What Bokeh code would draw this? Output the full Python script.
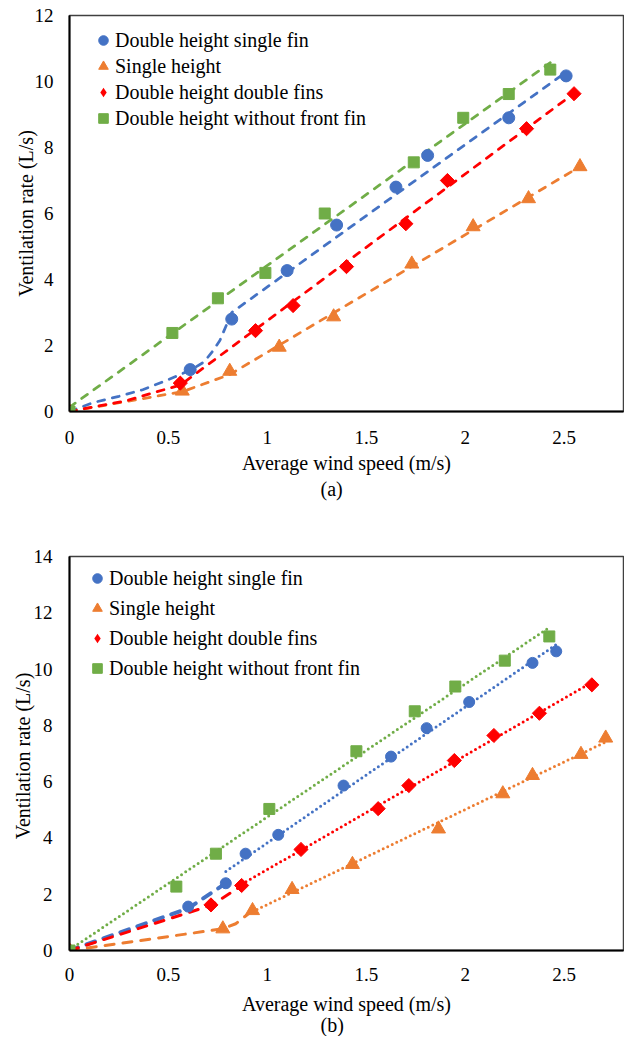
import numpy as np
from bokeh.plotting import figure
from bokeh.layouts import column
from bokeh.models import Range1d, FixedTicker, Legend, LegendItem, Title
from bokeh.embed import file_html
from bokeh.resources import INLINE

FONT = "Liberation Serif"

series_names = ["Double height single fin", "Single height",
                "Double height double fins", "Double height without front fin"]
series_colors = ["#4472C4", "#ED7D31", "#FF0000", "#70AD47"]

x_ticks = [0, 0.5, 1, 1.5, 2, 2.5]
x_tick_labels = ["0", "0.5", "1", "1.5", "2", "2.5"]
a_y_ticks = [0, 2, 4, 6, 8, 10, 12]
b_y_ticks = [0, 2, 4, 6, 8, 10, 12, 14]

# ---------------- (a) measured points ----------------
a_sf_x = [0, 0.61, 0.82, 1.10, 1.35, 1.65, 1.81, 2.22, 2.51]
a_sf_y = [0, 1.27, 2.80, 4.27, 5.65, 6.80, 7.76, 8.90, 10.17]
a_sh_x = [0, 0.57, 0.81, 1.06, 1.335, 1.73, 2.04, 2.32, 2.58]
a_sh_y = [0, 0.62, 1.22, 1.95, 2.87, 4.47, 5.60, 6.45, 7.42]
a_df_x = [0, 0.56, 0.94, 1.13, 1.40, 1.70, 1.91, 2.31, 2.55]
a_df_y = [0, 0.86, 2.45, 3.21, 4.39, 5.69, 7.00, 8.57, 9.63]
a_wf_x = [0, 0.52, 0.75, 0.99, 1.29, 1.74, 1.99, 2.22, 2.43]
a_wf_y = [0, 2.38, 3.43, 4.20, 6.00, 7.55, 8.90, 9.62, 10.36]

# (a) trend lines (dashed)
a_sf_fit_x = [0, 0.12, 0.25, 0.37, 0.49, 0.61, 0.68, 0.72, 0.76, 0.82, 2.49]
a_sf_fit_y = [0, 0.27, 0.46, 0.66, 0.94, 1.25, 1.50, 1.80, 2.15, 3.00, 10.20]
a_sh_fit_x = [0, 0.57, 0.81, 2.58]
a_sh_fit_y = [0, 0.60, 1.12, 7.42]
a_df_fit_x = [0, 0.29, 0.43, 0.56, 2.55]
a_df_fit_y = [0, 0.33, 0.58, 0.80, 9.64]
a_wf_fit_x = [0, 2.43]
a_wf_fit_y = [0.13, 10.57]

# ---------------- (b) measured points ----------------
b_sf_x = [0, 0.60, 0.79, 0.89, 1.055, 1.385, 1.625, 1.805, 2.02, 2.34, 2.46]
b_sf_y = [0, 1.56, 2.39, 3.44, 4.11, 5.86, 6.89, 7.90, 8.83, 10.22, 10.63]
b_sh_x = [0, 0.775, 0.925, 1.125, 1.43, 1.865, 2.19, 2.34, 2.585, 2.71]
b_sh_y = [0, 0.77, 1.42, 2.17, 3.06, 4.32, 5.57, 6.22, 6.97, 7.55]
b_df_x = [0, 0.715, 0.87, 1.17, 1.56, 1.715, 1.945, 2.145, 2.375, 2.64]
b_df_y = [0, 1.62, 2.31, 3.59, 5.04, 5.86, 6.75, 7.64, 8.43, 9.44]
b_wf_x = [0, 0.54, 0.74, 1.01, 1.45, 1.745, 1.95, 2.20, 2.425]
b_wf_y = [0, 2.27, 3.44, 5.03, 7.08, 8.50, 9.38, 10.30, 11.16]

# (b) low-speed trend segments (dashed)
b_sf_dash_x = [0, 0.60, 0.79]
b_sf_dash_y = [0, 1.50, 2.39]
b_sh_dash_x = [0, 0.775, 0.84, 0.925]
b_sh_dash_y = [0, 0.77, 0.95, 1.42]
b_df_dash_x = [0, 0.715, 0.87]
b_df_dash_y = [0, 1.60, 2.30]
# (b) linear trend lines (dotted)
b_sf_dot_x = [0.79, 2.46]
b_sf_dot_y = [2.81, 10.87]
b_sh_dot_x = [0.925, 2.71]
b_sh_dot_y = [1.38, 7.41]
b_df_dot_x = [0.87, 2.64]
b_df_dot_y = [2.35, 9.53]
b_wf_dot_x = [0, 2.425]
b_wf_dot_y = [0.02, 11.48]


def base_fig(height, border_left, border_top, border_bottom, ymax, y_ticks,
             y_label, y_label_standoff, y_tick_standoff, x_tick_standoff,
             x_label_standoff):
    p = figure(width=624, height=height, x_range=Range1d(0, 2.8),
               y_range=Range1d(0, ymax), output_backend="svg",
               toolbar_location=None, min_border_left=border_left,
               min_border_right=1, min_border_top=border_top,
               min_border_bottom=border_bottom)
    p.grid.visible = False
    p.outline_line_color = "#404040"
    p.outline_line_width = 1.5
    p.background_fill_color = "white"
    p.border_fill_color = "white"
    for ax in (p.xaxis[0], p.yaxis[0]):
        ax.axis_line_color = "black"
        ax.axis_line_width = 2
        ax.major_tick_out = 0
        ax.major_tick_in = 0
        ax.minor_tick_out = 0
        ax.minor_tick_in = 0
        ax.major_label_text_font = FONT
        ax.major_label_text_font_size = "19px"
        ax.major_label_text_color = "black"
        ax.axis_label_text_font = FONT
        ax.axis_label_text_font_size = "20px"
        ax.axis_label_text_font_style = "normal"
        ax.axis_label_text_color = "black"
    p.xaxis.ticker = FixedTicker(ticks=x_ticks)
    p.xaxis.major_label_overrides = {t: l for t, l in zip(x_ticks, x_tick_labels)}
    p.xaxis.major_label_standoff = x_tick_standoff
    p.xaxis.axis_label = "Average wind speed (m/s)"
    p.xaxis.axis_label_standoff = x_label_standoff
    p.yaxis.ticker = FixedTicker(ticks=y_ticks)
    p.yaxis.major_label_overrides = {t: str(t) for t in y_ticks}
    p.yaxis.major_label_standoff = y_tick_standoff
    p.yaxis.axis_label = y_label
    p.yaxis.axis_label_standoff = y_label_standoff
    return p


def add_markers(p, xs, ys, sizes):
    # legend swatch for the diamond series (legend glyphs ignore marker angle);
    # drawn with zero size underneath the real markers
    diamond_key = p.scatter(xs[2], ys[2], marker="diamond", size=0, line_width=0,
                            fill_color=series_colors[2], line_color=series_colors[2])
    rs = []
    markers = [("circle", 0.0), ("triangle", 0.0), ("square", np.pi / 4), ("square", 0.0)]
    for (x, y), (m, ang), c, s in zip(zip(xs, ys), markers, series_colors, sizes):
        r = p.scatter(x, y, marker=m, angle=ang, size=s, fill_color=c, line_color=c)
        rs.append(r)
    return [rs[0], rs[1], diamond_key, rs[3]]


def add_legend(p, keys, loc, spacing):
    items = [LegendItem(label=n, renderers=[r]) for n, r in zip(series_names, keys)]
    lg = Legend(items=items, location=loc, glyph_width=24, glyph_height=26,
                label_standoff=-2, spacing=spacing, padding=0, margin=0,
                border_line_alpha=0, background_fill_alpha=0,
                label_text_font=FONT, label_text_font_size="20px",
                label_text_color="black", label_height=20)
    p.add_layout(lg)


# ---------------- figure (a) ----------------
pa = base_fig(520, 58, 15, 109, 12, a_y_ticks, "Ventilation rate (L/s)",
              -5, 16, 19, 5)
a_fits = [(a_sf_fit_x, a_sf_fit_y), (a_sh_fit_x, a_sh_fit_y),
          (a_df_fit_x, a_df_fit_y), (a_wf_fit_x, a_wf_fit_y)]
for (fx, fy), c in zip(a_fits, series_colors):
    pa.line(fx, fy, line_color=c, line_width=2.75, line_dash="7 8", line_cap="round")
ka = add_markers(pa, [a_sf_x, a_sh_x, a_df_x, a_wf_x], [a_sf_y, a_sh_y, a_df_y, a_wf_y],
                 [12, 14, 10, 11])
add_legend(pa, ka, (22, 280), 0)
pa.add_layout(Title(text="(a)", align="left", offset=251, text_font=FONT,
                    text_font_size="20px", text_font_style="normal",
                    text_color="black", standoff=-2), "below")

# ---------------- figure (b) ----------------
pb = base_fig(516, 69, 36, 86, 14, b_y_ticks, "Ventilation rate  (L/s)",
              -3, 17, 17, 9)
b_dash = [(b_sf_dash_x, b_sf_dash_y, 4.0), (b_sh_dash_x, b_sh_dash_y, 3.0),
          (b_df_dash_x, b_df_dash_y, 3.0)]
for (fx, fy, w), c in zip(b_dash, series_colors[:3]):
    pb.line(fx, fy, line_color=c, line_width=w, line_dash="9 9", line_cap="round")
b_dot = [(b_sf_dot_x, b_sf_dot_y), (b_sh_dot_x, b_sh_dot_y),
         (b_df_dot_x, b_df_dot_y), (b_wf_dot_x, b_wf_dot_y)]
for (fx, fy), c in zip(b_dot, series_colors):
    pb.line(fx, fy, line_color=c, line_width=3, line_dash="0 5", line_cap="round")
kb = add_markers(pb, [b_sf_x, b_sh_x, b_df_x, b_wf_x], [b_sf_y, b_sh_y, b_df_y, b_wf_y],
                 [11, 14, 10, 11])
add_legend(pb, kb, (16, 269), 4)
pb.add_layout(Title(text="(b)", align="left", offset=251, text_font=FONT,
                    text_font_size="20px", text_font_style="normal",
                    text_color="black", standoff=-12), "below")

layout = column(pa, pb, spacing=0)
open("out.html", "w").write(file_html(layout, INLINE))
